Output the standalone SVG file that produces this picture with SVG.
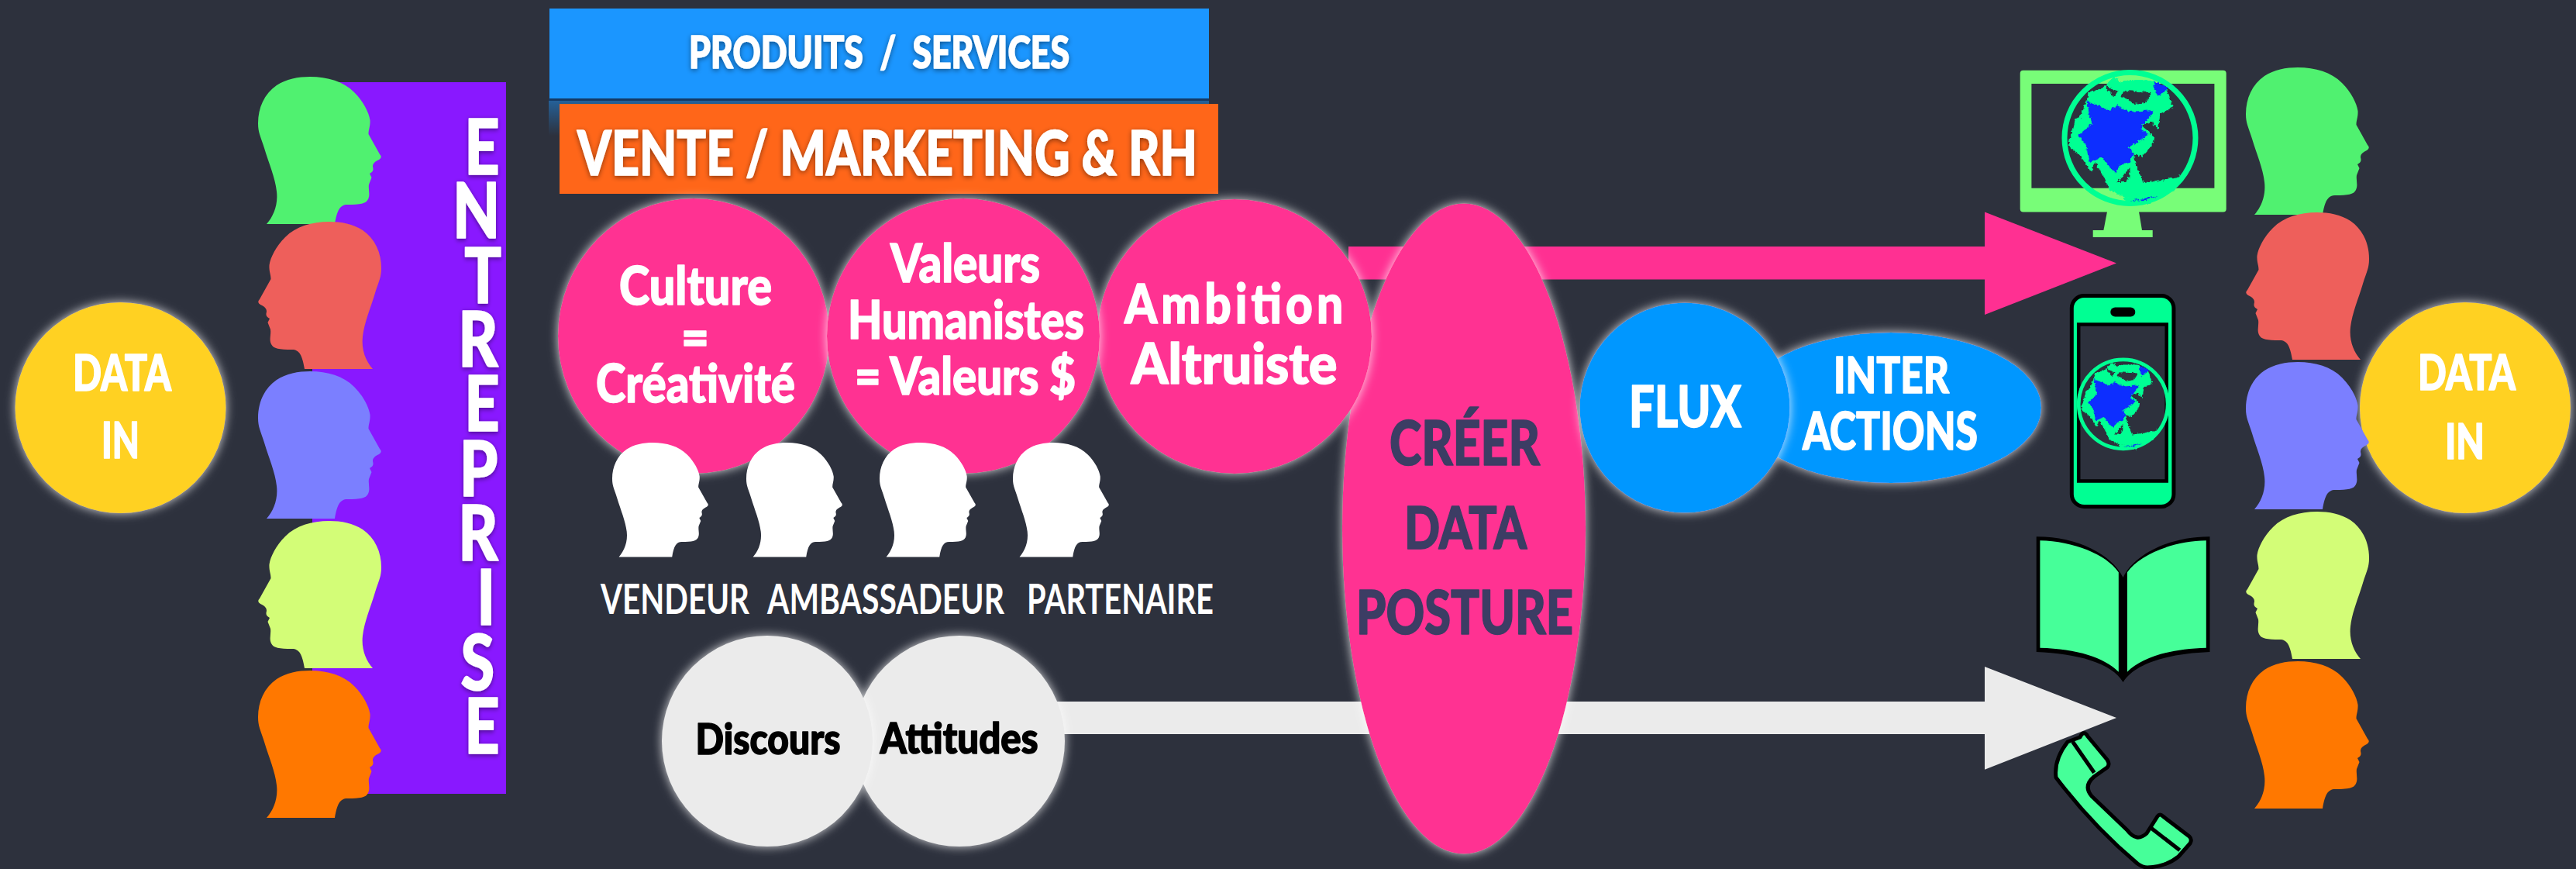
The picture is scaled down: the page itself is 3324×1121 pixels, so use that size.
<svg xmlns="http://www.w3.org/2000/svg" width="3324" height="1121" viewBox="0 0 3324 1121">
<style>
text{font-family:Lato,"Open Sans","Liberation Sans",sans-serif;font-weight:900;white-space:pre;stroke-width:1.6;stroke-linejoin:round}
.w{fill:#fff;stroke:#fff}.k{fill:#000;stroke:#000}.d{fill:#3c3d64;stroke:#3c3d64}
.r{font-weight:700;stroke:none}
.pink{fill:#ff3092}.grey{fill:#ebebeb}.cyan{fill:#0097ff}.yel{fill:#ffd120}
.g{filter:url(#glow)}
.ts{filter:url(#tshadow)}
.land{fill:#00ff93}.sea{fill:#0a2fff}.hole{fill:#2d313d}
.hg{fill:#50f170}.hr{fill:#ee5f5b}.hb{fill:#7b7fff}.hl{fill:#d3fd77}.ho{fill:#ff7800}.hw{fill:#fff}
.ph{fill:#46ff99}
</style>
<defs>
<filter id="glow" x="-15%" y="-15%" width="130%" height="130%">
<feGaussianBlur in="SourceAlpha" stdDeviation="6.5"/>
<feComponentTransfer result="a"><feFuncA type="linear" slope="1.3"/></feComponentTransfer>
<feFlood flood-color="#fff" flood-opacity=".62"/><feComposite in2="a" operator="in"/>
<feMerge><feMergeNode/><feMergeNode in="SourceGraphic"/></feMerge>
</filter>
<filter id="tshadow" x="-10%" y="-20%" width="120%" height="140%">
<feDropShadow dx="0" dy="2" stdDeviation="3" flood-color="#000" flood-opacity=".45"/>
</filter>
<filter id="rough" x="-10%" y="-10%" width="120%" height="120%">
<feTurbulence type="turbulence" baseFrequency=".16" numOctaves="2" seed="4"/>
<feDisplacementMap in="SourceGraphic" scale="5" xChannelSelector="R" yChannelSelector="G"/>
</filter>
<linearGradient id="refl" x1="0" y1="0" x2="0" y2="1"><stop offset="0" stop-color="#1b96ff" stop-opacity=".5"/><stop offset="1" stop-color="#1b96ff" stop-opacity="0"/></linearGradient>
<path id="head" d="M11,190 C20,180 26,165 24,148 C22,130 14,112 8,92 C3,76 0,72 0,60 C0,40 8,22 24,11 C36,3 52,0 67,0 C90,0 110,6 124,20 C136,32 143,46 144.5,56 C145,64 142.5,68 142.5,74 L157,100 Q161,104 156,107 C150,110 148,112 148,116 C149,120 149,122 144,125 L146.5,130 L143,139 C142,146 145,152 142,158 C139,164 132,165 115,165 C106,165 102,172 99,190 Z"/>
<g id="globe">
<circle r="84.5" fill="none" stroke="#00ff93" stroke-width="7"/>
<g filter="url(#rough)">
<path class="land" d="M-33,-68 -23,-80 -12,-73 -2,-76 27,-76 46,-64 54,-41 38,-33 35,-12 27,-23 14,-17 30,-3 27,9 14,23 4,19 6,32 17,56 46,52 66,48 56,66 30,74 -7,76 -28,66 -36,48 -46,30 -51,42 -65,21 -82,9 -67,-25 -54,-59Z"/>
<path class="land" d="M-72,-27 -64,-29 -72,1 -81,9Z"/>
<path class="land" d="M-9,76 38,70 25,84 -7,84Z"/>
<path class="sea" d="M-57,-49 -28,-37 -17,-43 -2,-35 30,-37 19,-23 12,-13 22,-7 14,1 -4,11 4,19 -2,30 -15,34 -20,44 -30,34 -38,23 -54,30 -57,11 -67,-5 -51,-19Z"/>
<path class="sea" d="M30,-74 48,-66 35,-55 30,-64Z"/>
<path class="sea" d="M-2,80 35,74 19,79Z"/>
<path class="hole" d="M-9,-62 27,-60 19,-47 4,-45 -4,-51 -12,-55Z"/>
<path class="hole" d="M-33,-68 -17,-62 -22,-55 -30,-62Z"/>
<path class="hole" d="M-17,56 -2,36 -2,48 -7,56Z"/>
</g>
</g>
</defs>
<rect width="3324" height="1121" fill="#2d313d"/>

<g id="connectors">
<polygon id="arrow-pink" class="pink" points="1740,318 2561,318 2561,273.5 2731,339.5 2561,406 2561,360.5 1740,360.5"/>
<polygon id="arrow-grey" class="grey" points="1300,905 2561,905 2561,860 2731,926 2561,992.7 2561,947 1300,947"/>
</g>

<g id="node-data-in-left">
<circle class="yel g" cx="155.5" cy="526" r="136"/>
<text class="w" x="94" y="504" font-size="65" textLength="127" lengthAdjust="spacingAndGlyphs">DATA</text>
<text class="w" x="131" y="591" font-size="65" textLength="49" lengthAdjust="spacingAndGlyphs">IN</text>
</g>

<g id="node-entreprise">
<rect x="403" y="106" width="250" height="918" fill="#8918ff"/>
<text class="w" filter="url(#tshadow)" font-size="99" transform="scale(.8,1)" x="749 730 749 739 749 741 739 769 743 749" y="225 307 391 473 556 640 723 806 890 972">ENTREPRISE</text>
</g>

<g id="heads-left">
<use href="#head" class="hg" x="333" y="99"/>
<use href="#head" class="hr" transform="translate(492,286) scale(-1,1)"/>
<use href="#head" class="hb" x="333" y="479"/>
<use href="#head" class="hl" transform="translate(492,672) scale(-1,1)"/>
<use href="#head" class="ho" x="333" y="865"/>
</g>

<g id="node-produits">
<rect x="708" y="127" width="852" height="48" fill="url(#refl)"/>
<rect x="708" y="127" width="852" height="3" fill="#143a66"/>
<rect x="709" y="11" width="851" height="116" fill="#1b96ff"/>
<text class="w ts" x="889" y="88" font-size="57" textLength="491" lengthAdjust="spacingAndGlyphs">PRODUITS  /  SERVICES</text>
</g>
<g id="node-vente">
<rect x="722" y="134" width="850" height="116" fill="#ff6619"/>
<text class="w ts" x="745" y="226" font-size="80" textLength="800" lengthAdjust="spacingAndGlyphs">VENTE / MARKETING &amp; RH</text>
</g>

<g id="node-creer">
<ellipse class="pink g" cx="1889" cy="682" rx="157" ry="419.5"/>
<text class="d" x="1793" y="599.5" font-size="80" textLength="194" lengthAdjust="spacingAndGlyphs">CRÉER</text>
<text class="d" x="1812" y="708" font-size="77" textLength="158" lengthAdjust="spacingAndGlyphs">DATA</text>
<text class="d" x="1750" y="817.5" font-size="78" textLength="280" lengthAdjust="spacingAndGlyphs">POSTURE</text>
</g>

<g id="node-ambition">
<ellipse class="pink g" cx="1593" cy="434" rx="177" ry="177"/>
<text class="w" transform="scale(.85,1)" x="1707" y="417.5" font-size="71" textLength="332" lengthAdjust="spacing">Ambition</text>
<text class="w" x="1459.5" y="494.5" font-size="72" textLength="266" lengthAdjust="spacingAndGlyphs">Altruiste</text>
</g>
<g id="node-culture">
<ellipse class="pink g" cx="895" cy="433.5" rx="175" ry="177.5"/>
<text class="w" x="799" y="393" font-size="69" textLength="197" lengthAdjust="spacingAndGlyphs">Culture</text>
<text class="w" x="879" y="459" font-size="69" textLength="36" lengthAdjust="spacingAndGlyphs">=</text>
<text class="w" x="769" y="519" font-size="69" textLength="257" lengthAdjust="spacingAndGlyphs">Créativité</text>
</g>
<g id="node-valeurs">
<ellipse class="pink g" cx="1243" cy="433.5" rx="176" ry="177.5"/>
<text class="w" x="1149" y="364" font-size="68" textLength="193" lengthAdjust="spacingAndGlyphs">Valeurs</text>
<text class="w" x="1094" y="437" font-size="68" textLength="305" lengthAdjust="spacingAndGlyphs">Humanistes</text>
<text class="w" x="1103" y="509" font-size="66" textLength="285" lengthAdjust="spacingAndGlyphs">= Valeurs $</text>
</g>

<g id="heads-white">
<use href="#head" class="hw" transform="translate(790,571) scale(.78,.776)"/>
<use href="#head" class="hw" transform="translate(963,571) scale(.78,.776)"/>
<use href="#head" class="hw" transform="translate(1135,571) scale(.78,.776)"/>
<use href="#head" class="hw" transform="translate(1307,571) scale(.78,.776)"/>
</g>
<g id="node-roles">
<text class="w r" x="775" y="792" font-size="54" textLength="192" lengthAdjust="spacingAndGlyphs">VENDEUR</text>
<text class="w r" x="990" y="792" font-size="54" textLength="306" lengthAdjust="spacingAndGlyphs">AMBASSADEUR</text>
<text class="w r" x="1325" y="792" font-size="54" textLength="241" lengthAdjust="spacingAndGlyphs">PARTENAIRE</text>
</g>

<g id="node-attitudes">
<circle class="grey g" cx="1238" cy="956" r="136"/>
<text class="k" x="1135.5" y="971.5" font-size="55" textLength="204" lengthAdjust="spacingAndGlyphs">Attitudes</text>
</g>
<g id="node-discours">
<circle class="grey g" cx="990" cy="956" r="136"/>
<text class="k" x="897.5" y="973" font-size="55" textLength="187" lengthAdjust="spacingAndGlyphs">Discours</text>
</g>

<g id="node-interactions">
<ellipse class="cyan g" cx="2440" cy="526" rx="194" ry="97"/>
<text class="w" x="2366" y="507" font-size="65" textLength="149" lengthAdjust="spacingAndGlyphs">INTER</text>
<text class="w" x="2326" y="580" font-size="67" textLength="226" lengthAdjust="spacingAndGlyphs">ACTIONS</text>
</g>
<g id="node-flux">
<circle class="cyan g" cx="2174" cy="526" r="135.5"/>
<text class="w" x="2102" y="550.5" font-size="75" textLength="145" lengthAdjust="spacingAndGlyphs">FLUX</text>
</g>

<g id="node-monitor">
<rect x="2606.7" y="90.8" width="266" height="182.7" rx="4" fill="#78fd78"/>
<rect x="2621.4" y="108" width="236" height="134.7" fill="#2d313d"/>
<polygon points="2719,273 2760,273 2764,297 2714.4,297" fill="#78fd78"/>
<rect x="2700.7" y="297" width="77" height="9" fill="#78fd78"/>
<use href="#globe" transform="translate(2748.5,178)"/>
</g>
<g id="node-smartphone">
<rect x="2673.3" y="381.5" width="131.6" height="272" rx="16" fill="#00ff93" stroke="#000" stroke-width="5"/>
<rect x="2682.2" y="418.5" width="113.5" height="202" fill="#2d313d" stroke="#000" stroke-width="4.5"/>
<rect x="2723.3" y="396.5" width="32" height="12" rx="6" fill="#000"/>
<use href="#globe" transform="translate(2739.7,521.3) scale(.68)"/>
</g>
<g id="node-book">
<path d="M2627.7,692.3 C2680,692 2725,715 2739.6,745 C2754,715 2800,692 2851.5,692.3 L2851.5,841 C2800,843 2755,855 2739.6,880 C2725,855 2680,843 2627.7,841 Z" fill="#000"/>
<path class="ph" d="M2632.4,697.3 C2675,698 2718,715 2733.8,738.3 L2733.8,866.7 C2715,848 2680,837 2632.4,835.7 Z"/>
<path class="ph" d="M2846.8,697.3 C2804,698 2761,715 2744.9,738.3 L2744.9,866.7 C2764,848 2800,837 2846.8,835.7 Z"/>
</g>
<g id="node-handset">
<path class="ph" stroke="#000" stroke-width="5" stroke-linejoin="round" d="M2684,951 Q2689,941 2694,950 L2719,980 Q2723,986 2719,990 L2702,1002 Q2688,1014 2699,1027 L2745,1071 Q2757,1087 2770,1075 L2784,1053 Q2787,1049 2791,1053 L2825,1079 Q2829,1083 2826,1088 L2811,1105 Q2795,1118 2771,1119 Q2765,1119 2758,1114 Q2700,1065 2653,1003 Q2650,980 2668,957 Z"/>
<path d="M2674.5,956.7 L2702.3,996.7 M2775.9,1068.3 L2812.7,1096.7" fill="none" stroke="#000" stroke-width="5"/>
</g>

<g id="node-data-in-right">
<circle class="yel g" cx="3181" cy="526" r="136"/>
<text class="w" x="3120" y="503" font-size="63" textLength="126" lengthAdjust="spacingAndGlyphs">DATA</text>
<text class="w" x="3155" y="592" font-size="63" textLength="51" lengthAdjust="spacingAndGlyphs">IN</text>
</g>
<g id="heads-right">
<use href="#head" class="hg" x="2898" y="87"/>
<use href="#head" class="hr" transform="translate(3057,274) scale(-1,1)"/>
<use href="#head" class="hb" x="2898" y="467"/>
<use href="#head" class="hl" transform="translate(3057,660) scale(-1,1)"/>
<use href="#head" class="ho" x="2898" y="853"/>
</g>
</svg>
